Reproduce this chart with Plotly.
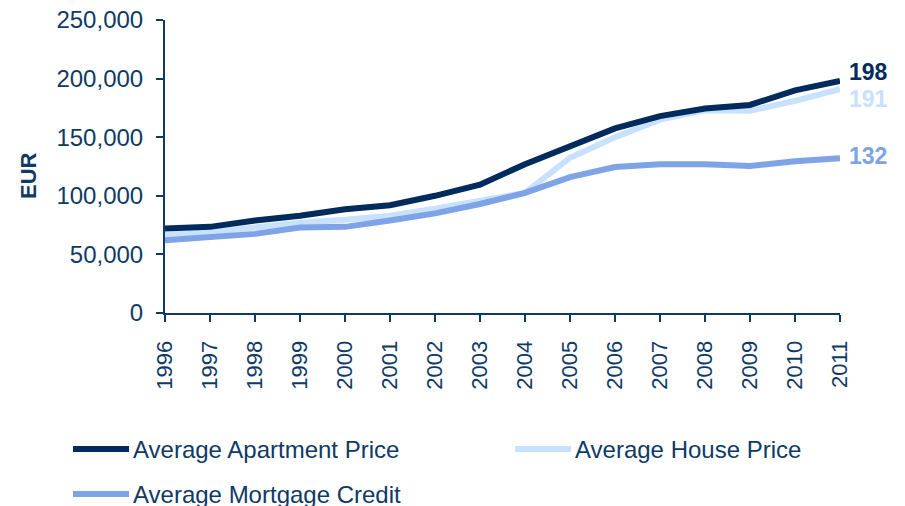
import plotly.graph_objects as go

years = list(range(1996, 2012))
series_names = ["Average Apartment Price", "Average House Price", "Average Mortgage Credit"]
apartment = [72000, 73500, 79000, 83000, 88500, 92000, 100000, 109500, 127000, 142000, 157500, 168000, 174500, 177500, 190000, 198000]
house = [66500, 69000, 73000, 77000, 79500, 83000, 89000, 95500, 102500, 132500, 150000, 165000, 173000, 172500, 181000, 191000]
mortgage = [62000, 65000, 67500, 73000, 73500, 79000, 85000, 93000, 102500, 116000, 124500, 127000, 127000, 125500, 129500, 132000]
end_labels = ["198", "191", "132"]
y_ticks = [0, 50000, 100000, 150000, 200000, 250000]
y_tick_text = ["0", "50,000", "100,000", "150,000", "200,000", "250,000"]

colors = ["#002B5C", "#C7E1FF", "#7EA3E6"]
label_shift = [9, -10, 2]
axis_color = "#0F3A66"
font_family = "Liberation Sans, Arial, sans-serif"

W, H = 905, 506
OFF = 8  # page body margin
# plot area in screen pixels
SX0, SX1, SY0, SY1 = 165, 840, 20, 313
L = SX0 - OFF
T = SY0 - OFF
R = W - (SX1 - OFF)
B = H - (SY1 - OFF)
PW, PH = SX1 - SX0, SY1 - SY0


def px(sx):
    return (sx - SX0) / PW


def py(sy):
    return (SY1 - sy) / PH


series = [apartment, house, mortgage]

fig = go.Figure()
# draw order: house, mortgage, apartment on top
for i in [1, 2, 0]:
    fig.add_trace(go.Scatter(x=years, y=series[i], mode="lines", name=series_names[i],
                             line=dict(color=colors[i], width=6), showlegend=False))

for vals, lab, col, sh in zip(series, end_labels, colors, label_shift):
    fig.add_annotation(x=years[-1], y=vals[-1], text="<b>%s</b>" % lab, showarrow=False,
                       xanchor="left", yanchor="middle", xshift=7, yshift=sh,
                       font=dict(size=23, color=col, family=font_family))

# manual legend
legend_pos = [(73, 449), (515, 449), (73, 494)]
for (lx, ly), name, col in zip(legend_pos, series_names, colors):
    fig.add_shape(type="line", xref="paper", yref="paper",
                  x0=px(lx), x1=px(lx + 56), y0=py(ly), y1=py(ly),
                  line=dict(color=col, width=6))
    fig.add_annotation(xref="paper", yref="paper", x=px(lx + 58), y=py(ly),
                       text=name, showarrow=False, xanchor="left", yanchor="middle",
                       font=dict(size=24, color=axis_color, family=font_family))

# y axis title
fig.add_annotation(xref="paper", yref="paper", x=px(29), y=py(176),
                   text="<b>EUR</b>", textangle=-90, showarrow=False,
                   xanchor="center", yanchor="middle",
                   font=dict(size=22, color=axis_color, family=font_family))

fig.update_layout(
    width=W, height=H,
    margin=dict(l=L, r=R, t=T, b=B),
    plot_bgcolor="white", paper_bgcolor="white",
    font=dict(family=font_family, color=axis_color, size=22),
)
fig.update_xaxes(range=[1996, 2011], tickmode="array", tickvals=years, ticktext=[str(y) for y in years],
                 tickangle=-90, showgrid=False, zeroline=False, showline=True, linecolor=axis_color,
                 linewidth=2, ticks="outside", ticklen=7, tickwidth=2, tickcolor=axis_color,
                 tickfont=dict(size=22, color=axis_color), automargin=False, ticklabelstandoff=10,
                 ticklabeloverflow="allow")
fig.update_yaxes(range=[0, 250000], tickmode="array", tickvals=y_ticks, ticktext=y_tick_text,
                 showgrid=False, zeroline=False, showline=True, linecolor=axis_color,
                 linewidth=2, ticks="outside", ticklen=7, tickwidth=2, tickcolor=axis_color,
                 tickfont=dict(size=24, color=axis_color), automargin=False, ticklabelstandoff=8,
                 ticklabeloverflow="allow")

fig.write_html("out.html")
